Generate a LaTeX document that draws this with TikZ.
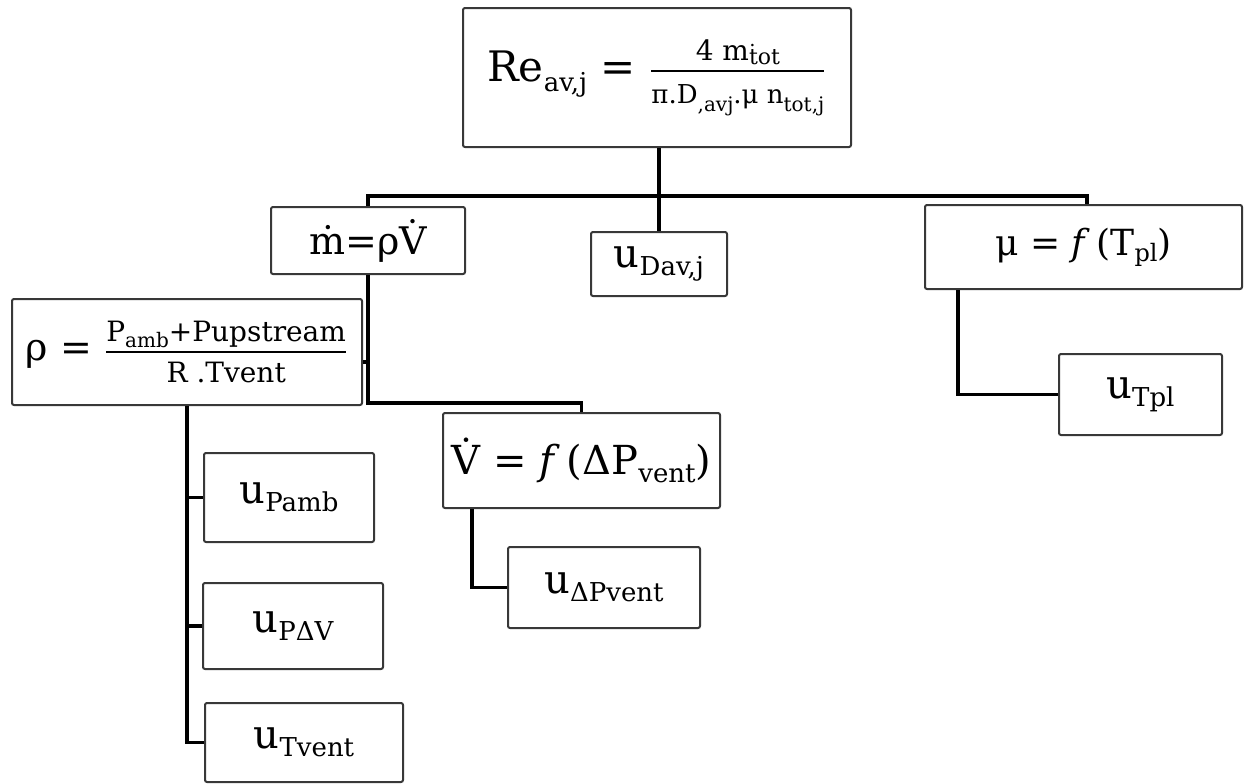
\documentclass[tikz,border=0pt]{standalone}
\usepackage{fontspec}
\setmainfont{DejaVu Serif}
\usepackage{amsmath}
\newcommand\lo[3]{\raisebox{-#2}{\fontsize{#1}{#1}\selectfont #3}}
\newcommand\fs[1]{\fontsize{#1}{#1}\selectfont}
\begin{document}
\begin{tikzpicture}[x=0.5pt,y=-0.5pt,
  box/.style={draw=black!78, line width=1pt, fill=white, rounded corners=1pt, inner sep=0pt, align=center},
  conn/.style={line width=1.7pt, black}]
\useasboundingbox (0,0) rectangle (1244,783);

\node[box, minimum width=194pt, minimum height=69.5pt] (re) at (657,77.5)
  {\fs{21}Re\lo{13}{5pt}{av,j} = $\frac{\hbox{\fs{14}\rule[-4pt]{0pt}{1pt}4 m\lo{11}{2pt}{\.{t}ot}}}{\hbox{\fs{13}\rule{0pt}{15pt}π.D\lo{10}{4pt}{,avj}.μ n\lo{10}{4pt}{tot,j}}}$};
\node[box, minimum width=97pt, minimum height=33.5pt] (mdot) at (368,240.5)
  {\fs{19}\.{m}=ρ\.{V}};
\node[box, minimum width=68pt, minimum height=32pt] (udav) at (659,264)
  {\fs{20}u\lo{13}{4pt}{Dav,j}};
\node[box, minimum width=158.5pt, minimum height=42pt] (mu) at (1083.5,247)
  {\fs{18}μ = \textit{f}\,(T\lo{12}{3pt}{pl})};
\node[box, minimum width=175pt, minimum height=53pt] (rho) at (187,352)
  {\fs{19}ρ = $\frac{\hbox{\fs{14}\rule[-4pt]{0pt}{1pt}P\lo{10}{3pt}{amb}+Pupstream}}{\hbox{\fs{14}\rule{0pt}{14pt}R .Tvent}}$};
\node[box, minimum width=138.5pt, minimum height=47.5pt] (Vdot) at (581.5,460.5)
  {\fs{20}\.{V} = \textit{f}\,(ΔP\lo{13}{4pt}{vent})};
\node[box, minimum width=96pt, minimum height=40.5pt] (udp) at (604,587.5)
  {\fs{20}u\lo{13}{4pt}{ΔPvent}};
\node[box, minimum width=81.5pt, minimum height=40.5pt] (utpl) at (1140.5,394.5)
  {\fs{20}u\lo{13}{4pt}{Tpl}};
\node[box, minimum width=85pt, minimum height=44.5pt] (upamb) at (289,497.5)
  {\fs{20}u\lo{13}{4pt}{Pamb}};
\node[box, minimum width=90pt, minimum height=43pt] (upv) at (293,626)
  {\fs{20}u\lo{13}{4pt}{PΔV}};
\node[box, minimum width=99pt, minimum height=39.5pt] (utvent) at (304,742.5)
  {\fs{20}u\lo{13}{4pt}{Tvent}};

\coordinate (bar) at (660,196);
\coordinate (vb) at (582,403);
\draw[conn] (udav.north |- re.south) -- (udav.north);
\draw[conn] (mdot.north) -- (mdot.north |- bar) -- ([xshift=1.75pt]mu.north |- bar) -- ([xshift=1.75pt]mu.north);
\draw[conn] (mdot.south) |- (Vdot.north |- vb) -- (Vdot.north);
\draw[conn] ([yshift=-5pt]rho.east) -| (mdot.south);
\draw[conn] (rho.south) |- (upamb.west);
\draw[conn] (rho.south) |- (upv.west);
\draw[conn] (rho.south) |- (utvent.west);
\draw[conn] (udp.west) -| ([xshift=-54.75pt]Vdot.south);
\draw[conn] (utpl.west) -| ([xshift=-62.75pt]mu.south);
\end{tikzpicture}
\end{document}
